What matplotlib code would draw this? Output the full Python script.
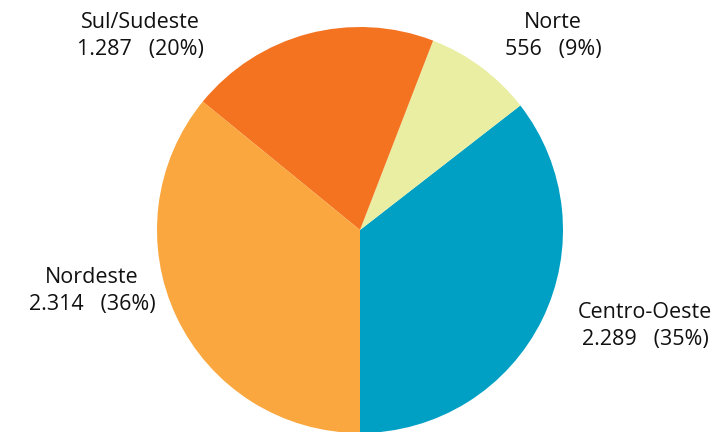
import matplotlib
matplotlib.use("Agg")
import matplotlib.pyplot as plt

regioes = ['Centro-Oeste', 'Norte', 'Sul/Sudeste', 'Nordeste']
valores = [2289, 556, 1287, 2314]
percentuais = [35, 9, 20, 36]
cores = ['#00A0C4', '#EAEEA2', '#F37321', '#F9A73E']

# posicoes dos rotulos (coordenadas do pie, raio = 1)
pos_rotulos = [(1.404, -0.473), (0.951, 0.956), (-1.084, 0.956), (-1.320, -0.300)]

plt.rcParams['font.family'] = ['Open Sans', 'DejaVu Sans']

fig = plt.figure(figsize=(7.21, 4.32), dpi=100)
cx, cy, r = 360, 230, 203
ax = fig.add_axes([(cx - r) / 721, (432 - cy - r) / 432, 2 * r / 721, 2 * r / 432])

ax.pie(valores, colors=cores, startangle=-90, counterclock=True,
       wedgeprops=dict(linewidth=0))
ax.set_xlim(-1, 1)
ax.set_ylim(-1, 1)
ax.set_aspect('equal')
ax.axis('off')

for nome, v, pct, (x, y) in zip(regioes, valores, percentuais, pos_rotulos):
    num = f"{v:,}".replace(",", ".")
    ax.text(x, y, f"{nome}\n{num}   ({pct}%)", ha='center', va='center',
            fontsize=15.5, linespacing=1.35, clip_on=False, color='#111111')

fig.savefig('out.png', dpi=100)
